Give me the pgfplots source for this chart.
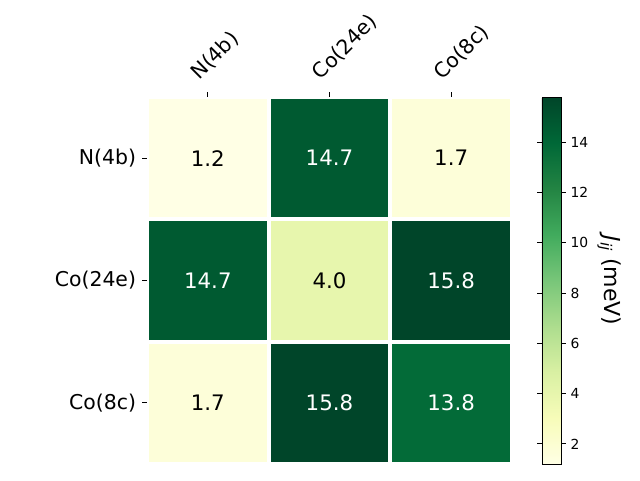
\documentclass[border=0pt]{standalone}
\usepackage{fontspec}
\setmainfont{DejaVu Sans}
\usepackage{pgfplots}
\pgfplotsset{compat=1.18}
\begin{document}
\begin{tikzpicture}
\path[use as bounding box] (0,0) rectangle (480pt,360pt);
\begin{axis}[
  at={(110.25pt,12pt)}, anchor=south west,
  scale only axis, width=273.75pt, height=275.25pt,
  xmin=-0.5, xmax=2.5, ymin=-0.5, ymax=2.5,
  y dir=reverse,
  enlargelimits=false,
  colormap={ylgn}{rgb255=(255,255,229) rgb255=(247,252,185) rgb255=(217,240,163) rgb255=(173,221,142) rgb255=(120,198,121) rgb255=(65,171,93) rgb255=(35,132,67) rgb255=(0,104,55) rgb255=(0,69,41)},
  point meta min=1.2, point meta max=15.8,
  axis line style={draw=none},
  xtick={0,1,2}, ytick={0,1,2},
  xticklabels={N(4b),Co(24e),Co(8c)},
  yticklabels={N(4b),Co(24e),Co(8c)},
  xtick pos=upper, ytick pos=lower,
  xticklabel pos=upper,
  tick align=outside,
  major tick length=3.7pt,
  tick style={black, line width=0.6pt},
  ticklabel style={font=\fontsize{15.3pt}{18pt}\selectfont},
  xticklabel style={rotate=45, anchor=south west, xshift=-2pt, yshift=5pt},
  yticklabel style={xshift=-1pt},
  minor xtick={-0.5,0.5,1.5,2.5}, minor ytick={-0.5,0.5,1.5,2.5},
  minor tick length=0pt,
  xminorgrids, yminorgrids,
  minor grid style={white, line width=3pt},
  axis on top,
  colorbar right,
  colorbar style={
    width=14.25pt,
    xshift=-0.3cm, xshift=21pt,
    ytick={2,4,...,14},
    tick align=outside,
    major tick length=3.7pt,
    tick style={black, line width=0.6pt},
    yticklabel style={font=\fontsize{10.4pt}{12pt}\selectfont, /pgf/number format/assume math mode=true},
    axis line style={black, line width=0.6pt},
    ylabel={{\itshape J}\textsubscript{\itshape ij} (meV)},
    ylabel style={font=\fontsize{16.5pt}{19pt}\selectfont, rotate=180},
  },
]
\addplot[matrix plot*, mesh/cols=3, mesh/ordering=x varies, point meta=explicit] table[meta=v] {
x y v
0 0 1.2
1 0 14.7
2 0 1.7
0 1 14.7
1 1 4.0
2 1 15.8
0 2 1.7
1 2 15.8
2 2 13.8
};
\addplot[only marks, mark=none, nodes near coords, point meta=explicit symbolic,
  nodes near coords align=center, every node near coord/.style={black, font=\fontsize{16pt}{19pt}\selectfont, anchor=center}]
  table[meta=v] {
x y v
0 0 1.2
2 0 1.7
1 1 4.0
0 2 1.7
};
\addplot[only marks, mark=none, nodes near coords, point meta=explicit symbolic,
  nodes near coords align=center, every node near coord/.style={white, font=\fontsize{16pt}{19pt}\selectfont, anchor=center}]
  table[meta=v] {
x y v
1 0 14.7
0 1 14.7
2 1 15.8
1 2 15.8
2 2 13.8
};
\end{axis}
\end{tikzpicture}
\end{document}
